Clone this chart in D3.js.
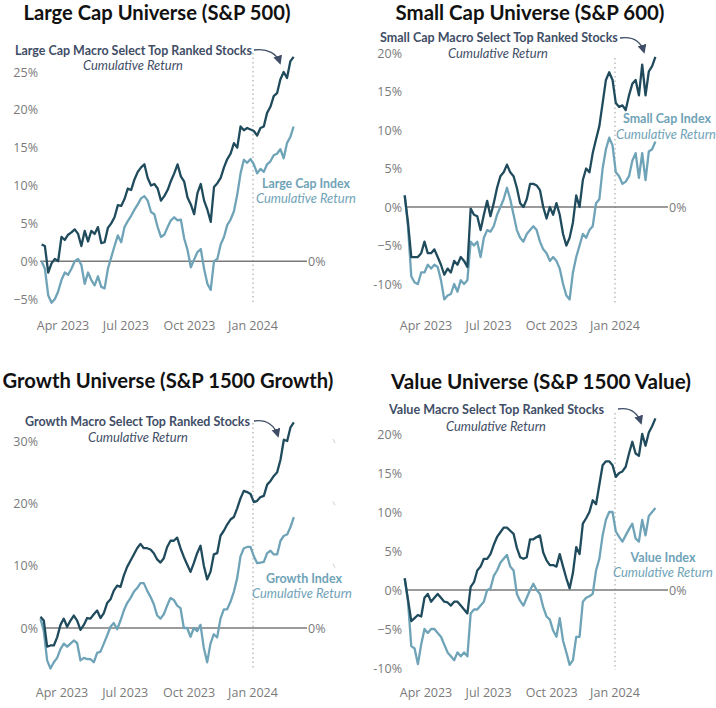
<!DOCTYPE html>
<html><head><meta charset="utf-8">
<script src="https://cdn.jsdelivr.net/npm/d3@7"></script>
<style>body{margin:0;background:#fff}svg{display:block}</style>
</head><body>
<svg id="chart" width="716" height="708"></svg>
<script>
// ---- data (cumulative return, %) sampled every ~4.8 days from 2023-03-01 ----
const startDate = new Date(2023, 2, 1);
const stepDays = 4.8;

const largeStrategy = [2.2,2.0,-1.5,-0.3,0.3,0.0,3.2,2.8,3.5,3.8, 4.2,3.6,2.0,4.0,2.6,4.0,3.6,4.5,2.4,2.5, 4.4,5.0,5.8,7.4,7.3,8.2,9.6,9.4,10.8,11.8, 12.4,12.8,11.0,10.0,10.2,9.6,8.0,8.6,9.4,10.6, 11.6,12.8,11.2,10.5,8.4,7.5,6.2,9.0,10.2,8.0, 6.8,5.2,9.8,10.3,11.0,12.4,13.5,14.2,15.6,15.0, 17.8,17.3,17.6,17.4,17.2,16.6,17.6,17.8,19.6,20.4, 21.8,22.2,24.0,25.0,24.2,26.4,27.0];
const largeIndex = [0.0,-1.0,-4.5,-5.5,-5.0,-4.0,-2.5,-1.5,-1.8,-1.0, 0.0,0.3,-0.5,-3.0,-1.5,-2.5,-3.2,-2.0,-3.4,-3.6, -1.0,0.5,2.0,3.4,2.5,4.5,5.3,6.0,6.8,7.5, 8.3,8.6,8.0,6.5,6.2,4.5,3.2,3.5,4.5,5.4, 5.8,5.4,5.5,3.0,1.5,-0.8,0.2,1.2,1.6,-1.0, -3.0,-3.8,0.0,0.3,2.2,3.2,4.8,5.5,6.6,8.8, 11.6,13.4,13.0,13.5,12.8,11.6,12.2,11.8,12.8,13.2, 14.0,14.2,14.8,13.6,15.6,16.4,17.8];

const smallStrategy = [1.5,-2.0,-6.5,-6.5,-6.5,-6.0,-4.5,-6.0,-6.0,-5.5, -6.5,-7.5,-8.8,-8.0,-8.5,-7.0,-7.5,-6.5,-7.0,-7.8, -0.2,-1.0,-1.2,-3.0,-1.0,0.8,-1.2,0.5,2.5,4.0, 4.5,5.5,4.5,4.0,2.5,0.5,0.0,1.0,3.0,3.0, 2.8,2.2,0.0,-1.5,0.0,-1.0,0.5,-1.0,-3.5,-5.0, -4.0,-2.0,1.5,0.0,3.5,5.0,4.5,7.0,8.8,10.5, 13.5,16.5,17.5,16.5,13.5,13.0,13.2,12.6,14.5,16.0, 16.5,14.5,18.5,14.5,17.6,18.3,19.5];
const smallIndex = [1.5,-2.5,-9.0,-9.8,-10.0,-8.5,-8.5,-7.5,-8.0,-7.5, -7.8,-9.5,-12.0,-11.5,-11.3,-10.0,-11.0,-9.5,-10.0,-9.5, -4.5,-5.0,-4.5,-6.5,-4.0,-3.0,-3.2,-2.5,-1.0,0.0, 1.0,2.5,1.0,-1.0,-3.0,-4.0,-4.5,-3.5,-3.0,-2.5, -3.0,-4.5,-5.5,-6.0,-7.0,-6.5,-7.0,-8.0,-10.0,-11.5, -12.0,-8.5,-6.5,-5.0,-3.5,-4.0,-3.0,-2.5,0.5,1.0, 5.0,7.5,9.0,8.0,4.5,4.0,3.0,3.3,4.0,6.0, 7.0,3.8,7.0,3.5,7.2,7.5,8.5];

const growthStrategy = [1.8,1.2,-3.0,-2.8,-2.8,-1.5,0.5,1.5,0.2,1.2, 2.0,1.2,-0.3,0.5,1.6,1.5,2.2,2.8,1.6,2.4, 4.0,4.6,6.0,6.8,6.6,8.4,9.8,10.8,11.8,12.8, 13.5,12.8,12.8,12.6,12.0,11.0,10.5,11.2,13.0,14.0, 14.0,14.5,12.8,11.4,10.2,9.0,10.4,12.0,13.2,10.0, 7.8,9.0,11.8,12.0,14.8,15.6,16.6,17.4,17.8,19.2, 20.8,22.0,21.8,21.5,20.2,20.4,21.0,21.2,23.0,23.6, 24.4,25.0,27.0,30.2,30.0,32.2,33.0];
const growthIndex = [1.5,-0.5,-5.2,-6.5,-5.5,-4.8,-3.4,-2.5,-3.0,-2.5, -2.0,-2.4,-5.2,-4.8,-5.0,-5.0,-5.5,-4.0,-3.8,-2.5, -1.2,0.2,0.8,-0.2,1.2,2.8,4.0,4.8,5.8,6.4, 7.2,7.2,6.0,5.0,3.8,2.0,1.5,2.2,3.6,4.8, 4.5,3.6,3.2,0.0,0.0,-1.4,0.0,-0.5,0.5,-3.2, -5.5,-2.5,-1.0,-1.5,1.5,3.0,3.0,4.2,5.8,8.0, 11.5,12.8,13.0,13.0,11.5,10.4,10.5,10.6,12.0,12.4, 11.8,11.8,14.0,14.8,15.0,16.2,17.8];

const valueStrategy = [1.5,-1.2,-4.0,-3.6,-3.2,-3.4,-1.0,-0.5,-1.5,-1.0, -0.5,-1.0,-1.5,-1.6,-2.0,-1.5,-1.5,-2.0,-2.5,-3.0, 0.4,1.0,2.5,3.0,4.0,4.0,4.6,5.8,6.8,7.4, 8.0,8.0,7.6,7.2,5.4,4.2,4.0,4.2,6.5,6.5, 6.8,7.0,4.8,3.8,3.2,3.2,3.0,4.6,3.0,1.5, 0.2,2.2,5.5,4.6,8.5,9.2,10.0,11.5,11.0,13.5, 16.0,16.5,16.5,16.0,14.5,15.0,15.2,15.8,17.5,19.0, 17.5,17.2,20.0,18.5,20.2,21.0,22.0];
const valueIndex = [1.5,-1.5,-7.2,-7.5,-9.5,-7.0,-5.0,-5.5,-5.0,-5.0, -5.5,-6.0,-7.0,-8.0,-8.5,-9.0,-8.0,-8.5,-8.0,-8.5, -3.0,-2.5,-2.5,-2.0,-1.5,0.0,0.2,1.8,2.5,3.5, 4.0,4.5,3.0,2.5,-0.5,-1.4,-2.0,-1.0,0.0,0.8, 0.0,-0.5,-2.2,-3.4,-3.8,-5.2,-6.0,-3.6,-6.5,-8.0, -9.6,-9.0,-6.0,-6.0,-1.5,-1.0,-0.8,-0.5,2.5,4.0, 7.0,9.0,10.0,10.0,7.5,6.8,6.2,7.0,7.8,8.5, 6.6,6.2,9.0,7.0,9.5,10.0,10.5];

const titles = ["Large Cap Universe (S&P 500)","Small Cap Universe (S&P 600)","Growth Universe (S&P 1500 Growth)","Value Universe (S&P 1500 Value)"];
const strategyLabels = ["Large Cap Macro Select Top Ranked Stocks","Small Cap Macro Select Top Ranked Stocks","Growth Macro Select Top Ranked Stocks","Value Macro Select Top Ranked Stocks"];
const indexLabels = ["Large Cap Index","Small Cap Index","Growth Index","Value Index"];
const subLabel = "Cumulative Return";
const xTickLabels = ["Apr 2023","Jul 2023","Oct 2023","Jan 2024"];
const xTickDates = ["2023-04-01","2023-07-01","2023-10-01","2024-01-01"];
const yTicksLarge = [-5,0,5,10,15,20,25];
const yTicksSmall = [-10,-5,0,5,10,15,20];
const yTicksGrowth = [0,10,20,30];
const yTicksValue = [-10,-5,0,5,10,15,20];
const dividerDate = "2024-01-01";

// ---- styles ----
const C_STRAT = "#1f4b5c", C_INDEX = "#6fa3b7", C_ANNOT = "#3f4e66", C_AXIS = "#7a7a7a";
const parse = d3.timeParse("%Y-%m-%d");
const dates = largeStrategy.map((_, i) => d3.timeHour.offset(startDate, Math.round(i * stepDays * 24)));

const panels = [
  {s: largeStrategy, b: largeIndex, ticks: yTicksLarge, yDom:[-5,25], yRan:[299,72], xR:[63,253], zx:[40,307], ylx:38, xly:330, dy:[53,303],
   title:{cx:157,y:20,w:267}, strat:{x:15,y:55,w:237}, sCR:{cx:133,y:70,w:100}, arrow:"M254,50 C268,48 277,54 280,63",
   idx:{cx:306,y:188,w:88}, iCR:{cx:306,y:203,w:100}},
  {s: smallStrategy, b: smallIndex, ticks: yTicksSmall, yDom:[-10,20], yRan:[284,53], xR:[426,615], zx:[405,668], ylx:402, xly:330, dy:[58,303],
   title:{cx:530,y:20,w:269}, strat:{x:380,y:42,w:238}, sCR:{cx:498,y:58,w:100}, arrow:"M620,38 C634,36 641,42 644,52",
   idx:{cx:667,y:123,w:88}, iCR:{cx:666,y:139,w:100}},
  {s: growthStrategy, b: growthIndex, ticks: yTicksGrowth, yDom:[0,30], yRan:[628,441], xR:[62,253], zx:[42,307], ylx:38, xly:697, dy:[423,670],
   title:{cx:168,y:388,w:331}, strat:{x:25,y:426,w:225}, sCR:{cx:138,y:442,w:100}, arrow:"M254,421 C267,419 275,426 278,436",
   idx:{cx:304,y:583,w:76}, iCR:{cx:302,y:598,w:100}},
  {s: valueStrategy, b: valueIndex, ticks: yTicksValue, yDom:[-10,20], yRan:[668,434], xR:[426,615], zx:[405,668], ylx:402, xly:697, dy:[413,670],
   title:{cx:541,y:389,w:300}, strat:{x:389,y:414,w:215}, sCR:{cx:496,y:431,w:100}, arrow:"M618,409 C631,407 638,414 641,423",
   idx:{cx:663,y:562,w:65}, iCR:{cx:663,y:577,w:100}}
];

const svg = d3.select("#chart");
svg.append("defs").append("marker").attr("id","ah").attr("viewBox","0 0 10 10")
  .attr("refX",8).attr("refY",5).attr("markerWidth",7).attr("markerHeight",7)
  .attr("orient","auto").append("path").attr("d","M0,0 L10,5 L0,10 Z").attr("fill",C_ANNOT);

function fit(sel, w) {
  const len = sel.node().getComputedTextLength();
  const fs = parseFloat(sel.attr("font-size"));
  sel.attr("font-size", (fs * w / len).toFixed(2));
  return sel;
}
function fmt(v){ return v < 0 ? (v === -5 ? "\u22125%" : "-" + Math.abs(v) + "%") : v + "%"; }

panels.forEach((p, k) => {
  const g = svg.append("g");
  const x = d3.scaleTime().domain([parse(xTickDates[0]), parse(xTickDates[3])]).range(p.xR);
  const y = d3.scaleLinear().domain(p.yDom).range(p.yRan);

  g.append("g").selectAll("text").data(p.ticks).join("text")
    .attr("x", p.ylx).attr("y", d => y(d)).attr("dy","0.36em").attr("text-anchor","end")
    .attr("font-family","Open Sans").attr("font-size",12.5).attr("fill",C_AXIS).text(fmt);
  g.append("g").selectAll("text").data(xTickDates).join("text")
    .attr("x", d => x(parse(d))).attr("y", p.xly).attr("text-anchor","middle")
    .attr("font-family","Open Sans").attr("font-size",12.5).attr("fill",C_AXIS)
    .text((d,i) => xTickLabels[i]);

  g.append("line").attr("x1", x(parse(dividerDate))).attr("x2", x(parse(dividerDate)))
    .attr("y1", p.dy[0]).attr("y2", p.dy[1]).attr("stroke","#bdbdbd").attr("stroke-width",1.5)
    .attr("stroke-dasharray","1.5,3");
  g.append("line").attr("x1", p.zx[0]).attr("x2", p.zx[1]).attr("y1", y(0)).attr("y2", y(0))
    .attr("stroke","#7a7a7a").attr("stroke-width",1.5);
  g.append("text").attr("x", p.zx[1] + 1).attr("y", y(0)).attr("dy","0.36em")
    .attr("font-family","Open Sans").attr("font-size",12.5).attr("fill",C_AXIS).text("0%");

  const line = d3.line().x((d,i) => x(dates[i])).y(d => y(d)).curve(d3.curveLinear);
  g.append("path").attr("d", line(p.b)).attr("fill","none").attr("stroke",C_INDEX).attr("stroke-width",2.3).attr("stroke-linejoin","round");
  g.append("path").attr("d", line(p.s)).attr("fill","none").attr("stroke",C_STRAT).attr("stroke-width",2.3).attr("stroke-linejoin","round");

  fit(g.append("text").attr("x", p.title.cx).attr("y", p.title.y).attr("text-anchor","middle")
    .attr("font-family","Lato").attr("font-weight","bold").attr("font-size",20).attr("fill","#111")
    .text(titles[k]), p.title.w);
  fit(g.append("text").attr("x", p.strat.x).attr("y", p.strat.y)
    .attr("font-family","Lato").attr("font-weight","bold").attr("font-size",13).attr("fill",C_ANNOT)
    .text(strategyLabels[k]), p.strat.w);
  fit(g.append("text").attr("x", p.sCR.cx).attr("y", p.sCR.y).attr("text-anchor","middle")
    .attr("font-family","Lato").attr("font-style","italic").attr("font-size",13).attr("fill",C_ANNOT)
    .text(subLabel), p.sCR.w);
  g.append("path").attr("d", p.arrow).attr("fill","none").attr("stroke",C_ANNOT).attr("stroke-width",1.3)
    .attr("marker-end","url(#ah)");
  fit(g.append("text").attr("x", p.idx.cx).attr("y", p.idx.y).attr("text-anchor","middle")
    .attr("font-family","Lato").attr("font-weight","bold").attr("font-size",13).attr("fill",C_INDEX)
    .text(indexLabels[k]), p.idx.w);
  fit(g.append("text").attr("x", p.iCR.cx).attr("y", p.iCR.y).attr("text-anchor","middle")
    .attr("font-family","Lato").attr("font-style","italic").attr("font-size",13).attr("fill",C_INDEX)
    .text(subLabel), p.iCR.w);
});

const yg = d3.scaleLinear().domain([0,30]).range([628,441]);
svg.append("g").selectAll("line").data([10,20,30]).join("line")
  .attr("x1",333).attr("x2",335).attr("y1",d=>yg(d)-2).attr("y2",d=>yg(d)+2)
  .attr("stroke","#cfcfcf").attr("stroke-width",1);
</script>
</body></html>
